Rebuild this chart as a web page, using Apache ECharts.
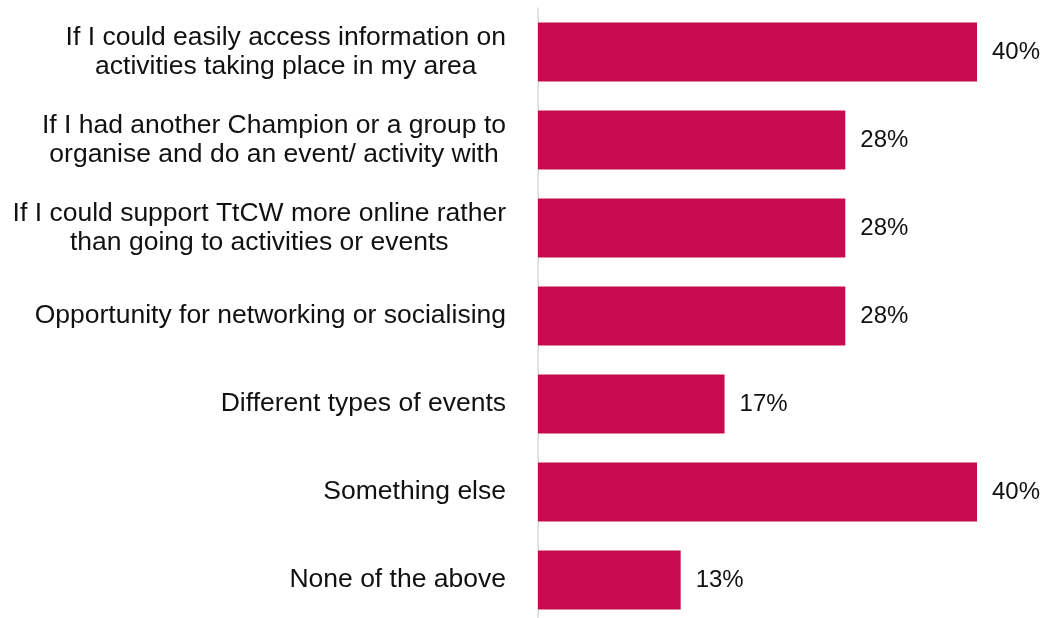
<!DOCTYPE html>
<html>
<head>
<meta charset="utf-8">
<script src="https://cdn.jsdelivr.net/npm/echarts@6/dist/echarts.min.js"></script>
<style>
  html, body { margin: 0; padding: 0; background: #ffffff; overflow: hidden; }
  /* canvas runs slightly past the bottom edge so the last band is cut like the axis line */
  #chart { width: 1045px; height: 626px; }
</style>
</head>
<body>
<div id="chart"></div>
<script>
// Reasons that would encourage more involvement (share of respondents, %)
const categories = [
  'If I could easily access information on\nactivities taking place in my area',
  'If I had another Champion or a group to\norganise and do an event/ activity with',
  'If I could support TtCW more online rather\nthan going to activities or events',
  'Opportunity for networking or socialising',
  'Different types of events',
  'Something else',
  'None of the above'
];
const values = [40, 28, 28, 28, 17, 40, 13];

const FONT = '"Liberation Sans", Arial, sans-serif';

const chart = echarts.init(document.getElementById('chart'), null, { renderer: 'canvas' });

chart.setOption({
  backgroundColor: '#ffffff',
  animation: false,
  grid: { left: 538, right: 68, top: 8, bottom: 2, containLabel: false },
  xAxis: {
    type: 'value',
    min: 0,
    max: 40,
    show: false,
    splitLine: { show: false }
  },
  yAxis: {
    type: 'category',
    data: categories,
    inverse: true,
    axisTick: { show: false },
    axisLine: { show: true, lineStyle: { color: '#D9D9D9', width: 1.5 } },
    axisLabel: {
      margin: 32,
      align: 'right',
      // each line centred within the right-aligned label block
      formatter: function (v) {
        return v.split('\n').map(function (s) { return '{c|' + s + '}'; }).join('\n');
      },
      rich: {
        c: {
          align: 'center',
          color: '#111111',
          fontFamily: FONT,
          fontSize: 26.5,
          lineHeight: 28.5
        }
      }
    }
  },
  series: [{
    type: 'bar',
    data: values,
    barWidth: 59,
    itemStyle: { color: '#C70B50' },
    label: {
      show: true,
      position: 'right',
      distance: 15,
      formatter: '{c}%',
      color: '#111111',
      fontFamily: FONT,
      fontSize: 24
    }
  }]
});
</script>
</body>
</html>
